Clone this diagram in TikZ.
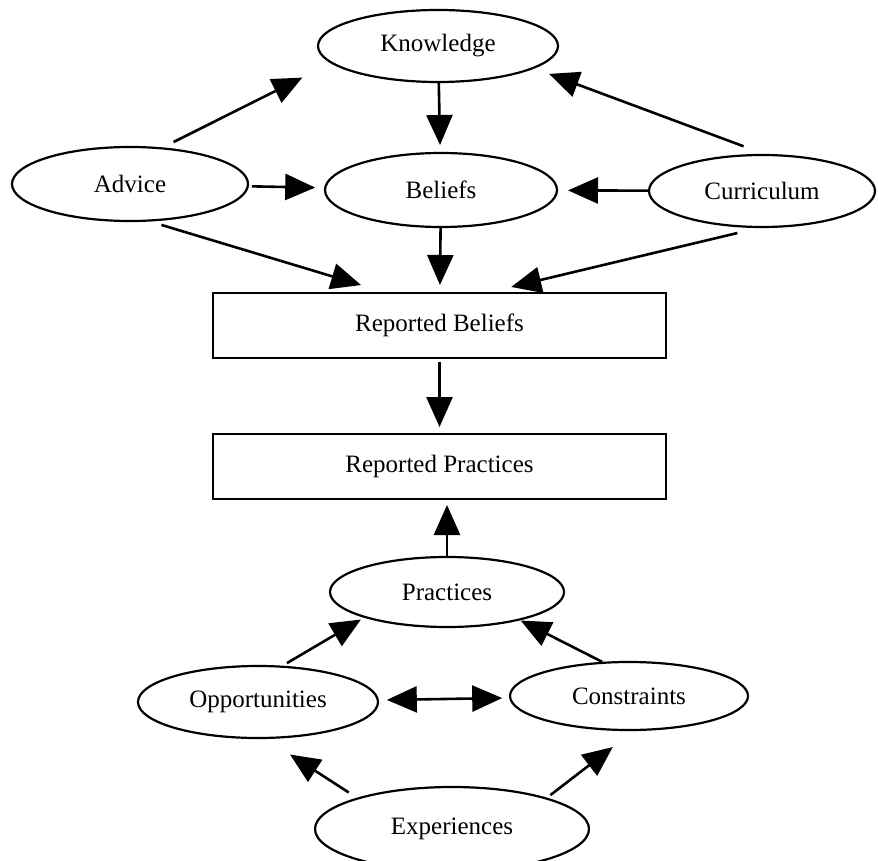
\documentclass[tikz,border=0pt]{standalone}
\usepackage{fontspec}
\setmainfont{Liberation Serif}
\usetikzlibrary{arrows.meta,shapes.geometric}
\begin{document}
\begin{tikzpicture}[x=1pt,y=-1pt,
  every node/.style={font=\fontsize{25}{30}\selectfont, inner sep=0pt, outer sep=0pt},
  oval/.style={ellipse, draw, line width=2.2pt},
  box/.style={rectangle, draw, line width=2.2pt, minimum width=453pt, minimum height=65pt},
  link/.style={line width=2.6pt, -{Triangle[length=30pt,width=26pt]}},
  both/.style={line width=2.6pt, {Triangle[length=30pt,width=26pt]}-{Triangle[length=30pt,width=26pt]}}]

% page frame
\clip (0,0) rectangle (878,861);
\fill[white] (0,0) rectangle (878,861);

% upper layer
\node[oval, minimum width=240pt, minimum height=72pt] (K) at (438,46) {Knowledge};
\node[oval, minimum width=236pt, minimum height=74pt] (A) at (130,184) {Advice};
\node[oval, minimum width=232pt, minimum height=74pt] (B) at (441,190) {Beliefs};
\node[oval, minimum width=226pt, minimum height=72pt] (C) at (762,191) {Curriculum};

% reported layer
\node[box] (RB) at (439.5,325.5) {Reported Beliefs};
\node[box] (RP) at (439.5,466.5) {Reported Practices};

% lower layer
\node[oval, minimum width=234pt, minimum height=70pt] (P) at (447,592) {Practices};
\node[oval, minimum width=240pt, minimum height=72pt] (O) at (258,702) {Opportunities};
\node[oval, minimum width=238pt, minimum height=68pt] (Cn) at (629,696) {Constraints};
\node[oval, minimum width=274pt, minimum height=84pt] (E) at (452,829) {Experiences};

% connectors, upper part
\draw[link, shorten <=14pt, shorten >=33pt] (A.49.7) -- (K.189.3);
\draw[link, shorten <=4pt, shorten >=10pt] (A) -- (B);
\draw[link, shorten <=1pt, shorten >=8pt] (K) -- (B);
\draw[link, shorten <=0pt, shorten >=11pt] (C) -- (B);
\draw[link, shorten <=25pt, shorten >=17pt] (C.82.7) -- (K.347.8);
\draw[link, shorten <=15pt, shorten >=27.6pt] (A.295.6) -- (RB.148.5);
\draw[link, shorten <=1pt, shorten >=8pt] (B) -- (RB);
\draw[link, shorten <=26pt, shorten >=26pt] (C.271.9) -- (RB.35.1);

% connectors, middle part
\draw[link, shorten <=4pt, shorten >=7pt] (RB) -- (RP);
\draw[link, shorten >=6pt] (P.north) -- (P.north |- RP.south);

% connectors, lower part
\draw[link, shorten <=7pt, shorten >=5pt] (O.57.3) -- (P.197.5);
\draw[link, shorten <=2pt, shorten >=2pt] (Cn.127.5) -- (P.339.9);
\draw[both, shorten <=9pt, shorten >=8pt] (O) -- (Cn);
\draw[link, shorten <=11pt, shorten >=30.6pt] (E.162.6) -- (O.280.2);
\draw[link, shorten <=5.5pt, shorten >=28pt] (E.18.2) -- (Cn.280.5);
\end{tikzpicture}
\end{document}
